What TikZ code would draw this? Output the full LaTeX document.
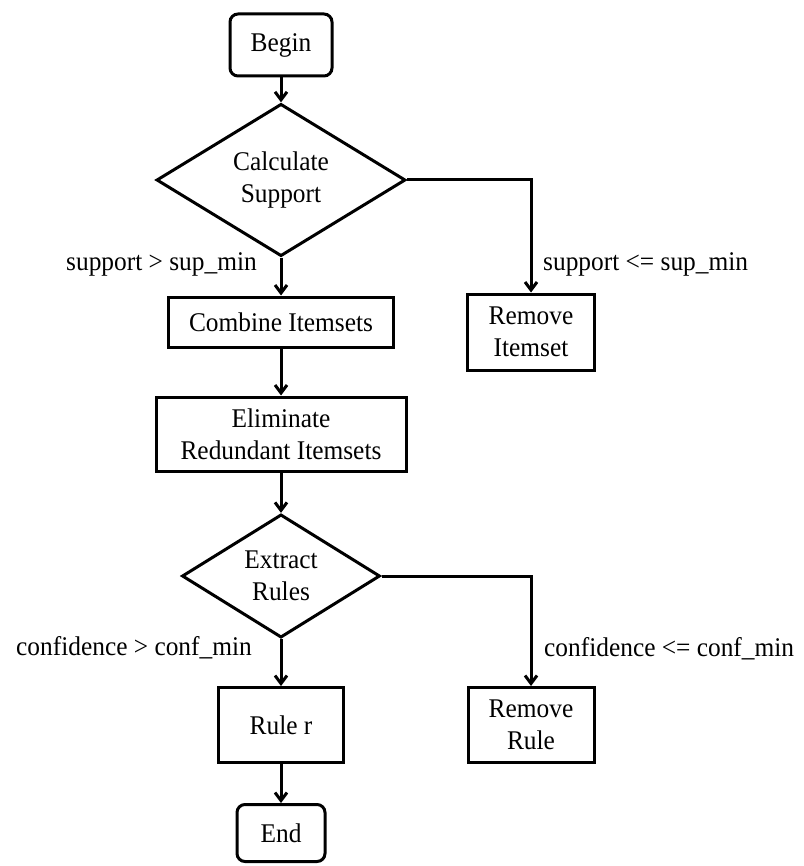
\documentclass[tikz,border=0pt]{standalone}
\usepackage{fontspec}
\setmainfont{Liberation Serif}[FakeStretch=0.94]
\usetikzlibrary{shapes.geometric,arrows.meta}

\tikzset{
  txt/.style={font=\fontsize{27}{32}\selectfont},
  base/.style={txt, draw=black, line width=3pt, align=center, inner sep=0pt},
  terminal/.style={base, rectangle, rounded corners=8pt},
  process/.style={base, rectangle},
  decision/.style={base, diamond},
  flow/.style={line width=3pt, -{Straight Barb[length=8pt,width=12pt,line width=3pt]}},
  cond/.style={txt, inner sep=0pt}
}

\begin{document}
\begin{tikzpicture}[x=1pt, y=-1pt]
  \useasboundingbox (0,0) rectangle (803,866);

  % main column
  \node[terminal, minimum width=102pt, minimum height=62pt] (begin) at (281,45) {Begin};
  \node[decision, minimum width=249pt, minimum height=124pt] (calc) at (281,180) {Calculate\\Support};
  \node[process, minimum width=225pt, minimum height=50pt] (comb) at (281,322) {Combine Itemsets};
  \node[process, minimum width=250pt, minimum height=74pt] (elim) at (281,434) {Eliminate\\Redundant Itemsets};
  \node[decision, minimum width=198pt, minimum height=122pt] (extr) at (281,576) {Extract\\Rules};
  \node[process, minimum width=125pt, minimum height=75pt] (rule) at (281,725) {Rule r};
  \node[terminal, minimum width=88pt, minimum height=57pt] (end) at (281,833) {End};

  % rejection branches
  \node[process, minimum width=127pt, minimum height=76pt] (remset) at (531,332) {Remove\\Itemset};
  \node[process, minimum width=126pt, minimum height=75pt] (remrule) at (531,725) {Remove\\Rule};

  % connectors
  \draw[flow] (begin) -- (calc);
  \draw[flow] (calc) -- (comb);
  \draw[flow] (comb) -- (elim);
  \draw[flow] (elim) -- (extr);
  \draw[flow] (extr) -- (rule);
  \draw[flow] (rule) -- (end);
  \draw[flow] (calc.east) -| (remset.north);
  \draw[flow] (extr.east) -| (remrule.north);

  % branch conditions
  \node[cond, anchor=base east] (c1) at (257,271) {support > sup\_min};
  \node[cond, anchor=base west] (c2) at (543,271) {support <= sup\_min};
  \node[cond, anchor=base east] (c3) at (252,655) {confidence > conf\_min};
  \node[cond, anchor=base west] (c4) at (544,656) {confidence <= conf\_min};
\end{tikzpicture}
\end{document}
